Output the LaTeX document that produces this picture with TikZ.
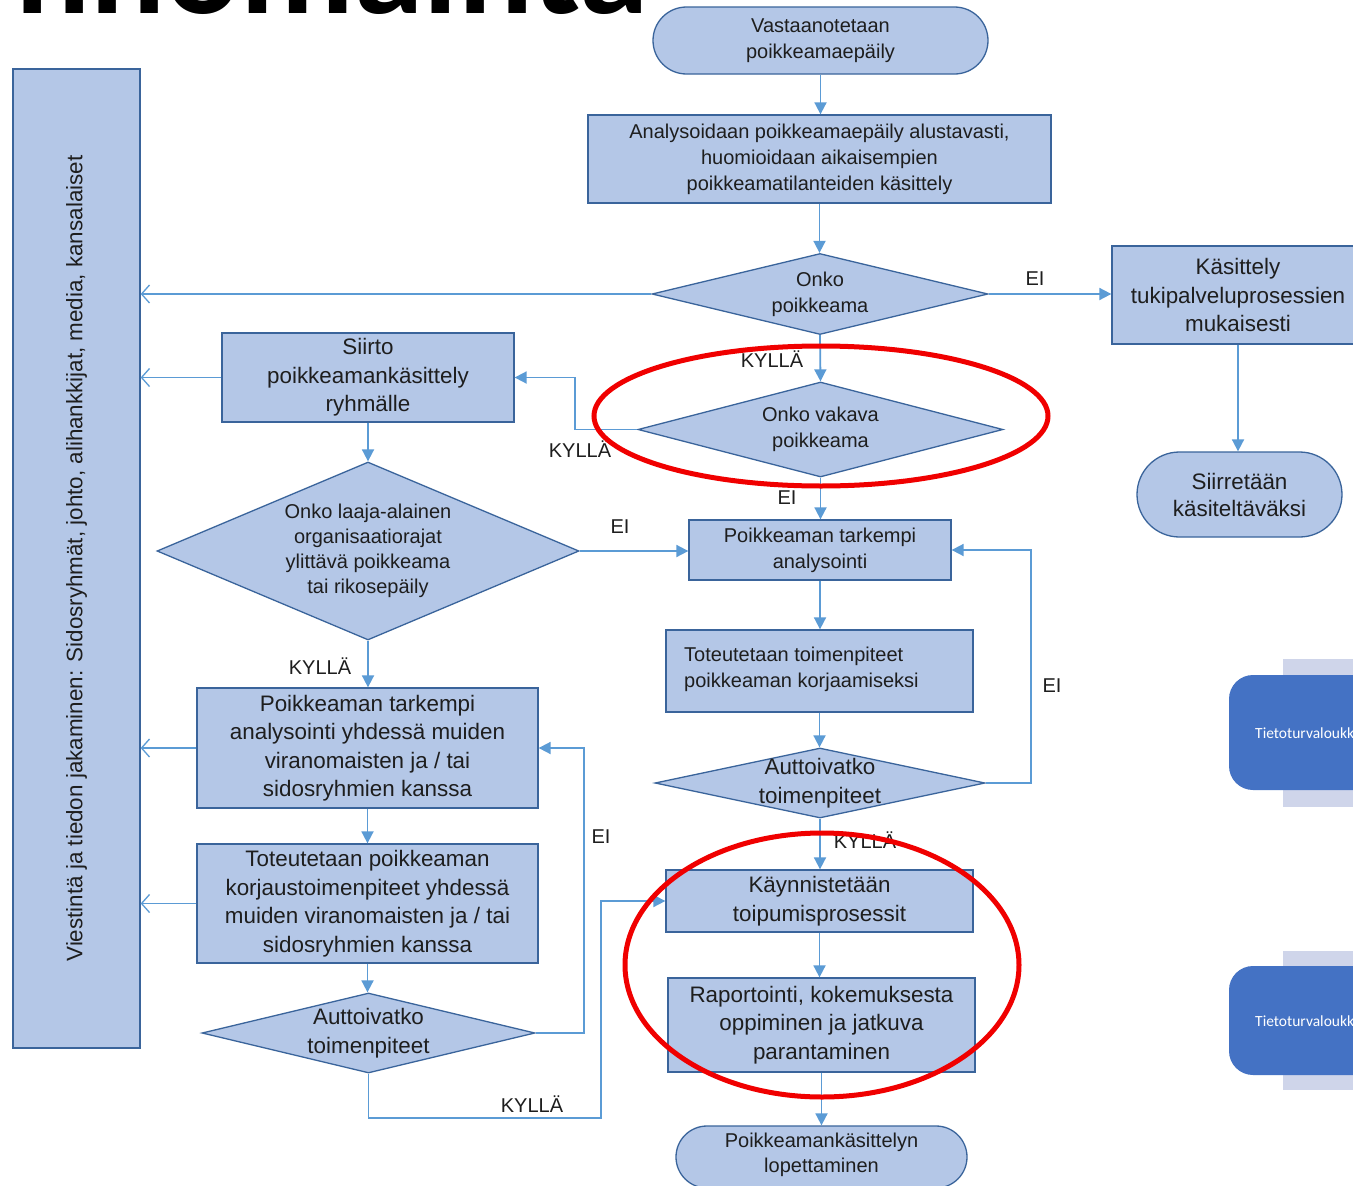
\documentclass[tikz,border=0pt]{standalone}
\usepackage{fontspec}
\setmainfont{Liberation Sans}
\newfontfamily\calib{Carlito}
\usetikzlibrary{arrows.meta,shapes.geometric}
\definecolor{boxfill}{RGB}{180,199,231}
\definecolor{boxline}{RGB}{58,100,155}
\definecolor{flow}{RGB}{91,155,213}
\definecolor{ink}{RGB}{30,30,30}
\definecolor{mark}{RGB}{240,0,0}
\definecolor{tile}{RGB}{68,114,196}
\definecolor{band}{RGB}{207,213,234}
\newcommand{\fsA}{\fontsize{20}{26}\selectfont}
\newcommand{\fsB}{\fontsize{22.4}{28.5}\selectfont}
\begin{document}
\begin{tikzpicture}[x=1pt,y=-1pt,
  box/.style={draw=boxline, fill=boxfill, line width=1.3pt, inner sep=0pt,
    align=center, text=ink, font=\fsA},
  big/.style={font=\fsB},
  term/.style={box, rounded corners=#1},
  dia/.style={diamond, draw=boxline, fill=boxfill, line width=1.3pt, inner sep=0pt},
  txt/.style={align=center, text=ink, inner sep=0pt, font=\fsA},
  lbl/.style={text=ink, inner sep=0pt, font=\fontsize{20}{20}\selectfont},
  flowline/.style={draw=flow, line width=1.8pt},
  go/.style={flowline, -{Triangle[length=12pt,width=12pt]}},
  tell/.style={flowline, -{Straight Barb[length=8pt,width=18pt,line width=1.3pt]}},
  ring/.style={draw=mark, line width=5pt},
  tilebox/.style={fill=tile, rounded corners=24pt, inner sep=0pt},
  tiletext/.style={anchor=west, text=white, inner sep=0pt, font=\calib\fontsize{15.5}{15.5}\selectfont},
]
\useasboundingbox (0,0) rectangle (1353,1186);
\clip (0,0) rectangle (1353,1186);
\fill[white] (0,0) rectangle (1353,1186);

% heading running off the top edge
\node[anchor=base west, inner sep=0pt, font=\calib\bfseries\fontsize{140}{140}\selectfont]
  (heading) at (15,13) {hnomainta};

% communication column
\node[box, minimum width=127pt, minimum height=979pt] (comm) at (76.5,558.5) {};
\node[rotate=90, txt, font=\fontsize{22.4}{22.4}\selectfont] at (comm.center)
  {Viestintä ja tiedon jakaminen: Sidosryhmät, johto, alihankkijat, media, kansalaiset};

% main column
\node[term=33.5pt, minimum width=335pt, minimum height=67pt] (start) at (820.5,40.5)
  {Vastaanotetaan\\poikkeamaepäily};
\node[box, minimum width=463pt, minimum height=88pt] (prelim) at (819.5,159)
  {Analysoidaan poikkeamaepäily alustavasti,\\huomioidaan aikaisempien\\poikkeamatilanteiden käsittely};
\node[dia, minimum width=336pt, minimum height=81pt] (isdev) at (820,294) {};
\node[txt] at (isdev) {Onko\\poikkeama};
\node[dia, minimum width=365pt, minimum height=95pt] (severe) at (820.5,429.5) {};
\node[txt] at (severe) {Onko vakava\\poikkeama};
\node[box, minimum width=262pt, minimum height=60pt] (analyse) at (820,550)
  {Poikkeaman tarkempi\\analysointi};
\node[box, minimum width=307pt, minimum height=82pt] (fix) at (819.5,671) {};
\node[txt, align=left, anchor=west] at (684,669)
  {Toteutetaan toimenpiteet\\poikkeaman korjaamiseksi};
\node[dia, minimum width=330pt, minimum height=70pt] (helped) at (820,783) {};
\node[txt, big] at (helped) {Auttoivatko\\toimenpiteet};
\node[box, big, minimum width=307pt, minimum height=62pt] (recover) at (819.5,901)
  {Käynnistetään\\toipumisprosessit};
\node[box, big, minimum width=307pt, minimum height=94pt] (report) at (821.5,1025)
  {Raportointi, kokemuksesta\\oppiminen ja jatkuva\\parantaminen};
\node[term=31pt, minimum width=291pt, minimum height=62pt] (finish) at (821.5,1157)
  {};
\node[txt, font=\fontsize{20}{25}\selectfont] at (821.5,1154.5)
  {Poikkeamankäsittelyn\\lopettaminen};

% right branch
\node[box, big, minimum width=252pt, minimum height=98pt] (support) at (1238,295)
  {Käsittely\\tukipalveluprosessien\\mukaisesti};
\node[term=42.5pt, big, font=\fontsize{22.4}{27}\selectfont, minimum width=205pt, minimum height=85pt]
  (handover) at (1239.5,494.5) {Siirretään\\käsiteltäväksi};

% left branch
\node[box, big, minimum width=292pt, minimum height=89pt] (transfer) at (368,377.5)
  {Siirto\\poikkeamankäsittely\\ryhmälle};
\node[dia, minimum width=422pt, minimum height=178pt] (wide) at (368,551) {};
\node[txt, font=\fontsize{20}{25}\selectfont] at (wide)
  {Onko laaja-alainen\\organisaatiorajat\\ylittävä poikkeama\\tai rikosepäily};
\node[box, big, minimum width=341pt, minimum height=120pt] (jointan) at (367.5,748)
  {Poikkeaman tarkempi\\analysointi yhdessä muiden\\viranomaisten ja / tai\\sidosryhmien kanssa};
\node[box, big, minimum width=341pt, minimum height=119pt] (jointfix) at (367.5,903.5)
  {Toteutetaan poikkeaman\\korjaustoimenpiteet yhdessä\\muiden viranomaisten ja / tai\\sidosryhmien kanssa};
\node[dia, minimum width=333pt, minimum height=80pt] (jointok) at (368.5,1033) {};
\node[txt, big] at (jointok) {Auttoivatko\\toimenpiteet};

% tiles at the right edge
\fill[band] (1283,659) rectangle (1360,807);
\node[tilebox, minimum width=160pt, minimum height=115pt] (tileA) at (1309,732.5) {};
\node[tiletext] at (1255,733) {Tietoturvaloukk};
\fill[band] (1283,951) rectangle (1360,1090);
\node[tilebox, minimum width=160pt, minimum height=109pt] (tileB) at (1309,1020.5) {};
\node[tiletext] at (1255,1021) {Tietoturvaloukk};

% connectors
\draw[go] (start.south) -- (start.south |- prelim.north);
\draw[go] (prelim.south) -- (prelim.south |- isdev.north);
\draw[go] (isdev.east) -- (isdev.east -| support.west);
\draw[tell] (isdev.west) -- (isdev.west -| comm.east);
\draw[go] (isdev.south) -- (severe.north);
\draw[go] (severe.west) -- ++(-62,0) |- (transfer.east);
\draw[go] (severe.south) -- (severe.south |- analyse.north);
\draw[go] (support.south) -- (support.south |- handover.north);
\draw[tell] (transfer.west) -- (transfer.west -| comm.east);
\draw[go] (transfer.south) -- (wide.north);
\draw[go] (wide.east) -- (wide.east -| analyse.west);
\draw[go] (wide.south) -- (wide.south |- jointan.north);
\draw[go] (analyse.south) -- (analyse.south |- fix.north);
\draw[go] (fix.south) -- (fix.south |- helped.north);
\draw[go] (helped.east) -- ++(45,0) |- (analyse.east);
\draw[go] (helped.south) -- (helped.south |- recover.north);
\draw[go] (recover.south) -- (recover.south |- report.north);
\draw[go] (report.south) -- (report.south |- finish.north);
\draw[tell] (jointan.west) -- (jointan.west -| comm.east);
\draw[tell] (jointfix.west) -- (jointfix.west -| comm.east);
\draw[go] (jointan.south) -- (jointan.south |- jointfix.north);
\draw[go] (jointfix.south) -- (jointfix.south |- jointok.north);
\draw[go] (jointok.east) -- ++(48,0) |- (jointan.east);
\draw[go] (jointok.south) -- ++(0,44) -| ([xshift=-64pt]recover.west) -- (recover.west);

% branch labels
\node[lbl] at (1035,279) {EI};
\node[lbl] at (772,359) {KYLLÄ};
\node[lbl] at (580,449) {KYLLÄ};
\node[lbl] at (787,498) {EI};
\node[lbl] at (620,527) {EI};
\node[lbl] at (320,666) {KYLLÄ};
\node[lbl] at (1052,686) {EI};
\node[lbl] at (865,840) {KYLLÄ};
\node[lbl] at (601,837) {EI};
\node[lbl] at (532,1104) {KYLLÄ};

% highlight rings
\draw[ring] (821,416) ellipse [x radius=227pt, y radius=70pt];
\draw[ring] (822,965) ellipse [x radius=197pt, y radius=132pt];
\end{tikzpicture}
\end{document}
